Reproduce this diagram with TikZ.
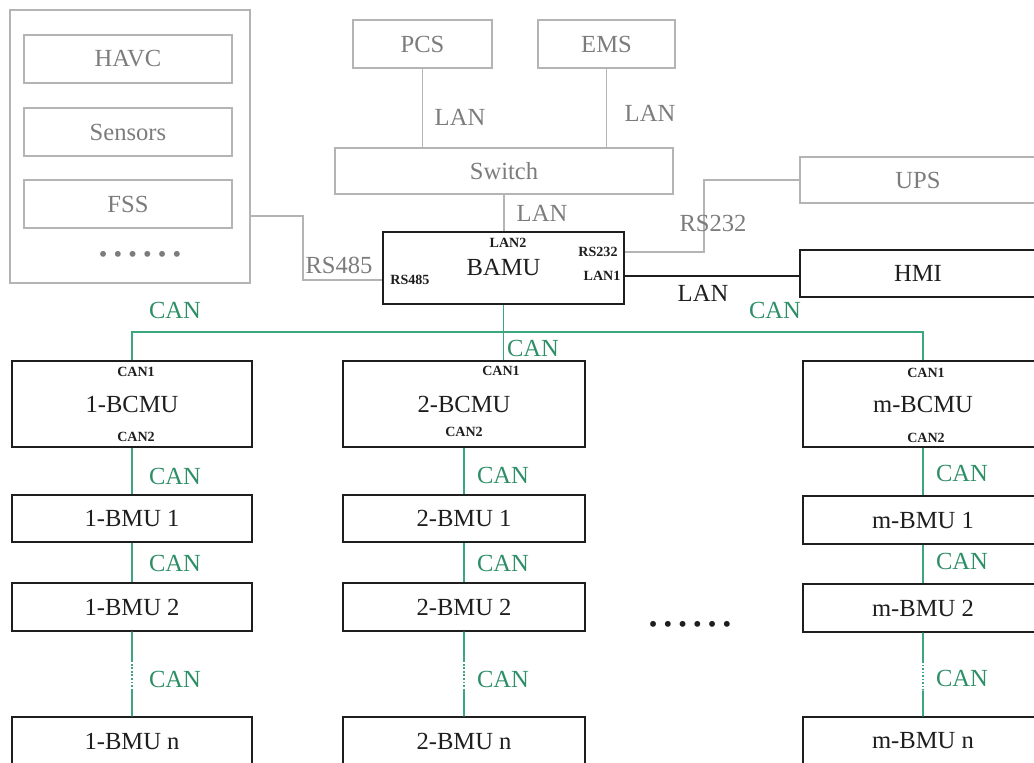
\documentclass[tikz,border=0pt]{standalone}
\usepackage{fontspec}
\setmainfont{Liberation Serif}
\usetikzlibrary{calc}
\definecolor{Ink}{HTML}{1E1E1E}
\definecolor{Haze}{HTML}{B4B4B4}
\definecolor{HazeText}{HTML}{7C7C7C}
\definecolor{CanGreen}{HTML}{3CA77D}
\definecolor{CanText}{HTML}{2E8F67}

\begin{document}
\begin{tikzpicture}[
  x=0.02cm, y=-0.02cm,
  font=\fontsize{14}{16}\selectfont,
  unit/.style={draw=Ink, text=Ink, line width=1pt, inner sep=0pt, minimum width=4.8cm, minimum height=0.95cm},
  aux/.style={draw=Haze, text=HazeText, line width=0.9pt, inner sep=0pt, minimum height=0.96cm},
  can/.style={draw=CanGreen, line width=1pt},
  wire/.style={draw=Haze, line width=0.9pt},
  canlabel/.style={text=CanText, inner sep=0pt},
  graylabel/.style={text=HazeText, inner sep=0pt},
  port/.style={font=\fontsize{8}{9}\selectfont\bfseries, text=Ink, inner sep=0pt}
]
\useasboundingbox (0,0) rectangle (1034,763);
\clip (0,0) rectangle (1034,763);

\node[aux, minimum width=4.8cm, minimum height=5.46cm] (side) at (130,146.5) {};
\node[aux, minimum width=4.16cm] (havc) at (128,59) {HAVC};
\node[aux, minimum width=4.16cm] (sensors) at (128,132) {Sensors};
\node[aux, minimum width=4.16cm] (fss) at (128,204) {FSS};
\node[graylabel] (sidedots) at (140,257) {\textbullet{} \textbullet{} \textbullet{} \textbullet{} \textbullet{} \textbullet};

\node[aux, minimum width=2.78cm] (pcs) at (422.5,44) {PCS};
\node[aux, minimum width=2.74cm] (ems) at (606.5,44) {EMS};
\node[aux, minimum width=6.76cm, minimum height=0.92cm] (switch) at (504,171) {Switch};
\node[aux, minimum width=4.72cm, minimum height=0.92cm] (ups) at (918,180) {UPS};

\node[unit, minimum width=4.82cm, minimum height=1.44cm] (bamu) at (503.5,268) {BAMU};
\node[port] (plan2) at (508,243) {LAN2};
\node[port] (p485) at (410,280) {RS485};
\node[port] (p232) at (598,252) {RS232};
\node[port] (plan1) at (602,276) {LAN1};
\node[unit, minimum width=4.72cm, minimum height=0.94cm] (hmi) at (918,273.5) {HMI};

\node[unit, minimum height=1.72cm] (bcmu1) at (132,404) {1-BCMU};
\node[unit, minimum width=4.84cm, minimum height=1.72cm] (bcmu2) at (464,404) {2-BCMU};
\node[unit, minimum height=1.72cm] (bcmum) at (923,404) {m-BCMU};
\node[port] (c11) at (136,372) {CAN1};
\node[port] (c12) at (136,437) {CAN2};
\node[port] (c21) at (501,371) {CAN1};
\node[port] (c22) at (464,432) {CAN2};
\node[port] (cm1) at (926,373) {CAN1};
\node[port] (cm2) at (926,438) {CAN2};

\node[unit] (bmu11) at (132,518.5) {1-BMU 1};
\node[unit] (bmu12) at (132,607) {1-BMU 2};
\node[unit] (bmu1n) at (132,741) {1-BMU n};
\node[unit, minimum width=4.84cm] (bmu21) at (464,518.5) {2-BMU 1};
\node[unit, minimum width=4.84cm] (bmu22) at (464,607) {2-BMU 2};
\node[unit, minimum width=4.84cm] (bmu2n) at (464,741) {2-BMU n};
\node[unit] (bmum1) at (923,520) {m-BMU 1};
\node[unit] (bmum2) at (923,608) {m-BMU 2};
\node[unit] (bmumn) at (923,741) {m-BMU n};
\node[text=Ink, inner sep=0pt] (middots) at (690,627) {\textbullet{} \textbullet{} \textbullet{} \textbullet{} \textbullet{} \textbullet};

\draw[wire] (pcs.south) -- (pcs.south |- switch.north);
\draw[wire] (ems.south) -- (ems.south |- switch.north);
\draw[wire] (switch.south) -- (switch.south |- bamu.north);
\draw[wire] ([yshift=-1.39cm]side.east) -- ++(52,0) |- (bamu.west |- p485);
\draw[wire] (bamu.east |- p232) -- ++(79,0) |- (ups.west);
\draw[Ink, line width=1pt] (bamu.east |- plan1) -- (hmi.west |- plan1);

\coordinate (bus) at (503.5,332);
\draw[can] (bcmu1.north) |- (bus) -| (bcmum.north);
\draw[can] (bamu.south) -- (bamu.south |- bcmu2.north);

\draw[can] (bcmu1.south) -- (bmu11.north);
\draw[can] (bmu11.south) -- (bmu12.north);
\draw[can] (bmu12.south) -- ($(bmu12.south)!0.34!(bmu1n.north)$);
\draw[can, densely dotted] ($(bmu12.south)!0.34!(bmu1n.north)$) -- ($(bmu12.south)!0.69!(bmu1n.north)$);
\draw[can] ($(bmu12.south)!0.69!(bmu1n.north)$) -- (bmu1n.north);

\draw[can] (bcmu2.south) -- (bmu21.north);
\draw[can] (bmu21.south) -- (bmu22.north);
\draw[can] (bmu22.south) -- ($(bmu22.south)!0.34!(bmu2n.north)$);
\draw[can, densely dotted] ($(bmu22.south)!0.34!(bmu2n.north)$) -- ($(bmu22.south)!0.69!(bmu2n.north)$);
\draw[can] ($(bmu22.south)!0.69!(bmu2n.north)$) -- (bmu2n.north);

\draw[can] (bcmum.south) -- (bmum1.north);
\draw[can] (bmum1.south) -- (bmum2.north);
\draw[can] (bmum2.south) -- ($(bmum2.south)!0.34!(bmumn.north)$);
\draw[can, densely dotted] ($(bmum2.south)!0.34!(bmumn.north)$) -- ($(bmum2.south)!0.69!(bmumn.north)$);
\draw[can] ($(bmum2.south)!0.69!(bmumn.north)$) -- (bmumn.north);

\node[graylabel] (lanpcs) at (460,117) {LAN};
\node[graylabel] (lanems) at (650,113) {LAN};
\node[graylabel] (lansw) at (542,213) {LAN};
\node[graylabel] (rs485) at (339,265) {RS485};
\node[graylabel] (rs232) at (713,223) {RS232};
\node[text=Ink, inner sep=0pt] (lanhmi) at (703,293) {LAN};

\node[canlabel] (canbus1) at (175,310) {CAN};
\node[canlabel] (canbus2) at (533,348) {CAN};
\node[canlabel] (canbus3) at (775,310) {CAN};
\node[canlabel] (can1a) at (175,476) {CAN};
\node[canlabel] (can1b) at (175,563) {CAN};
\node[canlabel] (can1c) at (175,679) {CAN};
\node[canlabel] (can2a) at (503,475) {CAN};
\node[canlabel] (can2b) at (503,563) {CAN};
\node[canlabel] (can2c) at (503,679) {CAN};
\node[canlabel] (canma) at (962,473) {CAN};
\node[canlabel] (canmb) at (962,561) {CAN};
\node[canlabel] (canmc) at (962,678) {CAN};
\end{tikzpicture}
\end{document}
